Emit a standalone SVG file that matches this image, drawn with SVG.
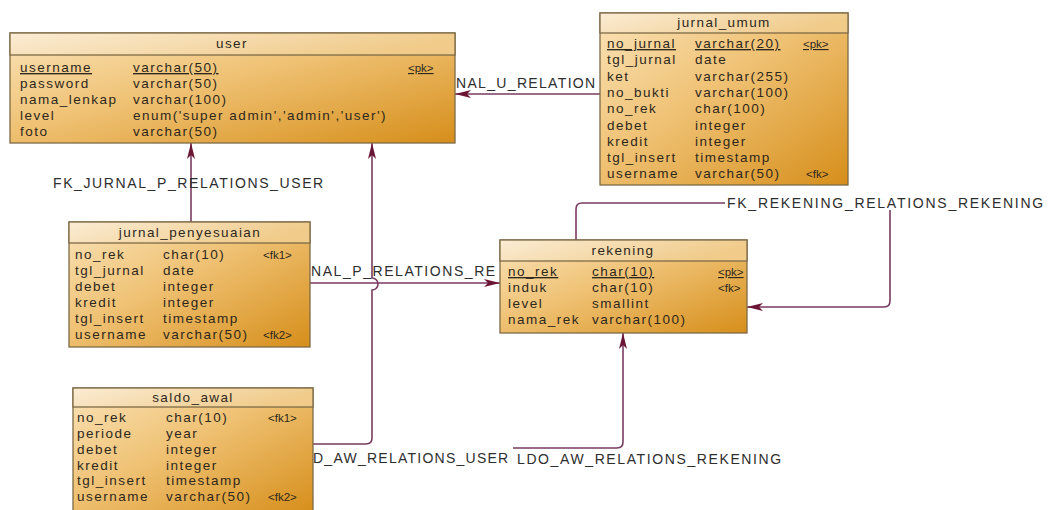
<svg xmlns="http://www.w3.org/2000/svg" width="1049" height="510" viewBox="0 0 1049 510">
<defs>
<linearGradient id="body" x1="0" y1="0" x2="1" y2="1">
<stop offset="0" stop-color="#fae3b8"/>
<stop offset="0.45" stop-color="#efc173"/>
<stop offset="1" stop-color="#d68e1a"/>
</linearGradient>
<linearGradient id="head" x1="0" y1="0" x2="1" y2="0.3">
<stop offset="0" stop-color="#fbecd4"/>
<stop offset="1" stop-color="#f0cb8a"/>
</linearGradient>
<marker id="arr" viewBox="0 0 16 10" refX="16" refY="5" markerWidth="16" markerHeight="10" markerUnits="userSpaceOnUse" orient="auto">
<path d="M0,1 L16,5 L0,9 L4,5 Z" fill="#6b1535"/>
</marker>
<style>
.box{fill:url(#body);stroke:#7d6a45;stroke-width:1.3}
.hd{fill:url(#head);stroke:#7d6a45;stroke-width:1.3}
.t{font-family:"Liberation Sans",Arial,sans-serif;font-size:13.5px;letter-spacing:1.5px;fill:#2e281c}
.ttl{font-family:"Liberation Sans",Arial,sans-serif;font-size:13.5px;letter-spacing:1.4px;fill:#2e281c;text-anchor:middle}
.k{font-family:"Liberation Sans",Arial,sans-serif;font-size:11.5px;fill:#2e281c}
.u{text-decoration:underline}
.lbl{font-family:"Liberation Sans",Arial,sans-serif;font-size:14px;letter-spacing:1.8px;fill:#2e2e2e}
.c{fill:none;stroke:#7a3b63;stroke-width:1.6}
</style>
</defs>
<rect width="1049" height="510" fill="#ffffff"/>

<g id="connectors">
<path class="c" d="M600,94 L455,94" marker-end="url(#arr)"/>
<path class="c" d="M191,222 L191,143" marker-end="url(#arr)"/>
<path class="c" d="M310,283 L500,283" marker-end="url(#arr)"/>
<path class="c" d="M313,444 L366,444 Q372,444 372,438 L372,290 A6,6 0 0 0 372,278 L372,143" marker-end="url(#arr)"/>
<path class="c" d="M513,448 L617,448 Q623,448 623,442 L623,333" marker-end="url(#arr)"/>
<path class="c" d="M576,240 L576,209 Q576,203 582,203 L725,203"/>
<path class="c" d="M890,210 L890,301 Q890,307 884,307 L747,307" marker-end="url(#arr)"/>
<text class="lbl" x="456" y="88" textLength="141">NAL_U_RELATION</text>
<text class="lbl" x="53" y="188" textLength="272">FK_JURNAL_P_RELATIONS_USER</text>
<text class="lbl" x="311" y="276" textLength="186">NAL_P_RELATIONS_RE</text>
<text class="lbl" x="727" y="208" textLength="318">FK_REKENING_RELATIONS_REKENING</text>
<text class="lbl" x="313" y="463" textLength="197">D_AW_RELATIONS_USER</text>
<text class="lbl" x="517" y="464" textLength="266">LDO_AW_RELATIONS_REKENING</text>
</g>

<g id="user">
<rect class="box" x="10" y="33" width="445" height="110"/>
<rect class="hd" x="10" y="33" width="445" height="22"/>
<text class="ttl" x="232" y="48">user</text>
<text class="t u" x="20" y="72">username</text><text class="t u" x="133" y="72">varchar(50)</text><text class="k u" x="408" y="72">&lt;pk&gt;</text>
<text class="t" x="20" y="88">password</text><text class="t" x="133" y="88">varchar(50)</text>
<text class="t" x="20" y="104">nama_lenkap</text><text class="t" x="133" y="104">varchar(100)</text>
<text class="t" x="20" y="120">level</text><text class="t" x="133" y="120">enum('super admin','admin','user')</text>
<text class="t" x="20" y="136">foto</text><text class="t" x="133" y="136">varchar(50)</text>
</g>

<g id="jurnal_umum">
<rect class="box" x="600" y="13" width="248" height="172"/>
<rect class="hd" x="600" y="13" width="248" height="20"/>
<text class="ttl" x="724" y="27">jurnal_umum</text>
<text class="t u" x="607" y="48">no_jurnal</text><text class="t u" x="695" y="48">varchar(20)</text><text class="k u" x="803" y="48">&lt;pk&gt;</text>
<text class="t" x="607" y="64">tgl_jurnal</text><text class="t" x="695" y="64">date</text>
<text class="t" x="607" y="81">ket</text><text class="t" x="695" y="81">varchar(255)</text>
<text class="t" x="607" y="97">no_bukti</text><text class="t" x="695" y="97">varchar(100)</text>
<text class="t" x="607" y="113">no_rek</text><text class="t" x="695" y="113">char(100)</text>
<text class="t" x="607" y="130">debet</text><text class="t" x="695" y="130">integer</text>
<text class="t" x="607" y="146">kredit</text><text class="t" x="695" y="146">integer</text>
<text class="t" x="607" y="162">tgl_insert</text><text class="t" x="695" y="162">timestamp</text>
<text class="t" x="607" y="178">username</text><text class="t" x="695" y="178">varchar(50)</text><text class="k" x="806" y="178">&lt;fk&gt;</text>
</g>

<g id="jurnal_penyesuaian">
<rect class="box" x="69" y="222" width="241" height="125"/>
<rect class="hd" x="69" y="222" width="241" height="21"/>
<text class="ttl" x="190" y="237">jurnal_penyesuaian</text>
<text class="t" x="75" y="259">no_rek</text><text class="t" x="163" y="259">char(10)</text><text class="k" x="263" y="259">&lt;fk1&gt;</text>
<text class="t" x="75" y="275">tgl_jurnal</text><text class="t" x="163" y="275">date</text>
<text class="t" x="75" y="291">debet</text><text class="t" x="163" y="291">integer</text>
<text class="t" x="75" y="307">kredit</text><text class="t" x="163" y="307">integer</text>
<text class="t" x="75" y="323">tgl_insert</text><text class="t" x="163" y="323">timestamp</text>
<text class="t" x="75" y="339">username</text><text class="t" x="163" y="339">varchar(50)</text><text class="k" x="263" y="339">&lt;fk2&gt;</text>
</g>

<g id="rekening">
<rect class="box" x="500" y="240" width="247" height="93"/>
<rect class="hd" x="500" y="240" width="247" height="21"/>
<text class="ttl" x="623" y="255">rekening</text>
<text class="t u" x="508" y="276">no_rek</text><text class="t u" x="592" y="276">char(10)</text><text class="k u" x="718" y="276">&lt;pk&gt;</text>
<text class="t" x="508" y="292">induk</text><text class="t" x="592" y="292">char(10)</text><text class="k" x="718" y="292">&lt;fk&gt;</text>
<text class="t" x="508" y="308">level</text><text class="t" x="592" y="308">smallint</text>
<text class="t" x="508" y="324">nama_rek</text><text class="t" x="592" y="324">varchar(100)</text>
</g>

<g id="saldo_awal">
<rect class="box" x="73" y="388" width="240" height="126"/>
<rect class="hd" x="73" y="388" width="240" height="19"/>
<text class="ttl" x="193" y="402">saldo_awal</text>
<text class="t" x="77" y="422">no_rek</text><text class="t" x="166" y="422">char(10)</text><text class="k" x="268" y="422">&lt;fk1&gt;</text>
<text class="t" x="77" y="438">periode</text><text class="t" x="166" y="438">year</text>
<text class="t" x="77" y="454">debet</text><text class="t" x="166" y="454">integer</text>
<text class="t" x="77" y="470">kredit</text><text class="t" x="166" y="470">integer</text>
<text class="t" x="77" y="485">tgl_insert</text><text class="t" x="166" y="485">timestamp</text>
<text class="t" x="77" y="501">username</text><text class="t" x="166" y="501">varchar(50)</text><text class="k" x="268" y="501">&lt;fk2&gt;</text>
</g>
</svg>
